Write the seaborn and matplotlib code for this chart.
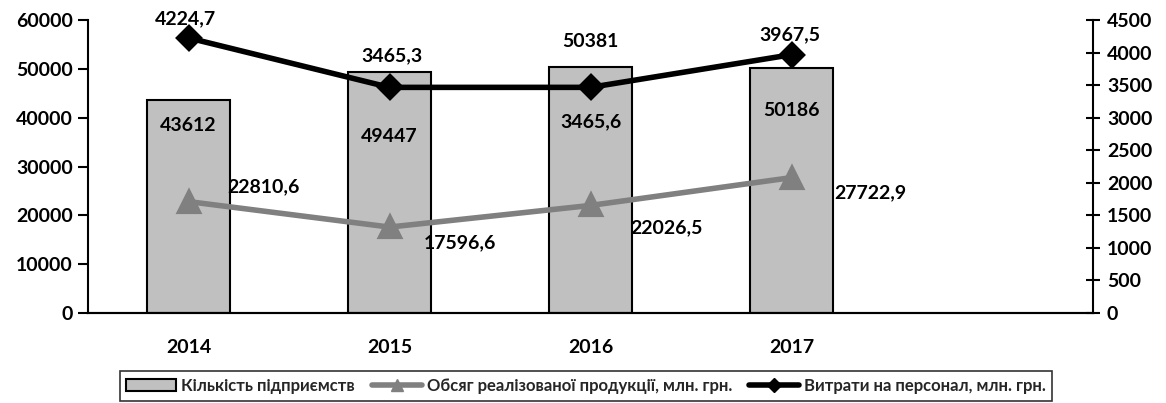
import matplotlib
matplotlib.use("Agg")
import matplotlib.pyplot as plt
from matplotlib import font_manager as fm
import seaborn as sns
import pandas as pd
import numpy as np
from matplotlib.patches import Patch
from matplotlib.lines import Line2D

years = ["2014", "2015", "2016", "2017"]
slots = years + [""]
enterprises = [43612, 49447, 50381, 50186]
sales = [22810.6, 17596.6, 22026.5, 27722.9]
personnel = [4224.7, 3465.3, 3465.6, 3967.5]
enterprise_labels = ["43612", "49447", "50381", "50186"]
sales_labels = ["22810,6", "17596,6", "22026,5", "27722,9"]
personnel_labels = ["4224,7", "3465,3", "3465,6", "3967,5"]
legend_names = ["Кількість підприємств", "Обсяг реалізованої продукції, млн. грн.",
                "Витрати на персонал, млн. грн."]

sns.set_theme(style="white")

# pick the first preferred family that actually has a bold face installed
preferred = ["Lato", "Open Sans", "Noto Sans", "Roboto", "Liberation Sans", "DejaVu Sans"]
family = "DejaVu Sans"
for f in preferred:
    faces = [e for e in fm.fontManager.ttflist if e.name == f]
    if any((isinstance(e.weight, int) and e.weight >= 700) or str(e.weight) == "bold"
           for e in faces):
        family = f
        break
plt.rcParams['font.family'] = [family, 'DejaVu Sans']
plt.rcParams['font.weight'] = 'bold'

df = pd.DataFrame({"year": years, "ent": enterprises, "sales": sales, "pers": personnel})

fig = plt.figure(figsize=(11.66, 4.03), dpi=100)
ax = fig.add_axes([88/1166, 1 - 313/403, (1093-88)/1166, (313-20)/403])

sns.barplot(data=df, x="year", y="ent", order=slots, color="#C0C0C0", saturation=1,
            edgecolor="black", linewidth=1.5, width=0.41, ax=ax)
sns.pointplot(data=df, x="year", y="sales", order=slots, color="#808080",
              markers="^", markersize=14, linewidth=4, ax=ax, zorder=5)
ax2 = ax.twinx()
sns.pointplot(data=df, x="year", y="pers", order=slots, color="black",
              markers="D", markersize=11, linewidth=4, ax=ax2, zorder=5)

ax.set_xlim(-0.5, 4.5)
ax.set_ylim(0, 60000)
ax2.set_ylim(0, 4500)
ax.set_yticks(np.arange(0, 60001, 10000))
ax2.set_yticks(np.arange(0, 4501, 500))
ax.set_xlabel("")
ax.set_ylabel("")
ax2.set_ylabel("")

fs = 14
ax.set_xticks(np.arange(-0.5, 4.6, 1.0))
ax.set_xticklabels([])
ax.set_xticks(range(len(slots)), labels=slots, minor=True)
ax.tick_params(axis="x", which="minor", length=0, pad=19, labelsize=fs)
ax.tick_params(axis="x", which="major", length=6, width=1.5, direction="out", color="black")
ax.tick_params(axis="y", length=7, width=1.5, direction="out", labelsize=fs, color="black", pad=4)
ax2.tick_params(axis="y", length=10, width=1.5, direction="inout", labelsize=fs, color="black", pad=5)
for lab in ax.get_xticklabels(minor=True) + ax.get_yticklabels() + ax2.get_yticklabels():
    lab.set_fontweight("bold")
    lab.set_color("black")

for a in (ax, ax2):
    a.spines["top"].set_visible(False)
    for s in ("left", "right", "bottom"):
        a.spines[s].set_color("black")
        a.spines[s].set_linewidth(1.5)
ax2.spines["left"].set_visible(False)
ax.spines["right"].set_visible(False)

# bar labels (offsets in points)
ent_off = [(0, -18), (0, -47), (0, 18), (0, -31)]
for i, (v, t) in enumerate(zip(enterprises, enterprise_labels)):
    ax.annotate(t, (i, v), xytext=ent_off[i], textcoords="offset points",
                ha="center", va="center", fontsize=fs, fontweight="bold", color="black")
# sales labels
sales_off = [(54, 11), (51, -11), (55, -16), (57, -11)]
for i, (v, t) in enumerate(zip(sales, sales_labels)):
    ax.annotate(t, (i, v), xytext=sales_off[i], textcoords="offset points",
                ha="center", va="center", fontsize=fs, fontweight="bold", color="black")
# personnel labels
pers_off = [(-2, 14), (2, 23), (0, -25), (-1, 14)]
for i, (v, t) in enumerate(zip(personnel, personnel_labels)):
    ax2.annotate(t, (i, v), xytext=pers_off[i], textcoords="offset points",
                 ha="center", va="center", fontsize=fs, fontweight="bold", color="black")

handles = [Patch(facecolor="#C0C0C0", edgecolor="black", linewidth=1.5),
           Line2D([], [], color="#808080", lw=4, marker="^", markersize=9),
           Line2D([], [], color="black", lw=4, marker="D", markersize=7)]
leg = fig.legend(handles, legend_names, loc="center", bbox_to_anchor=(586/1166, 1 - 386/403),
                 ncol=3, frameon=True, fancybox=False, handlelength=3.0,
                 columnspacing=1.0, handletextpad=0.3, borderpad=0.4,
                 prop={"weight": "bold", "size": 12})
leg.get_frame().set_edgecolor("black")
leg.get_frame().set_linewidth(1.2)

fig.savefig("out.png", dpi=100)
